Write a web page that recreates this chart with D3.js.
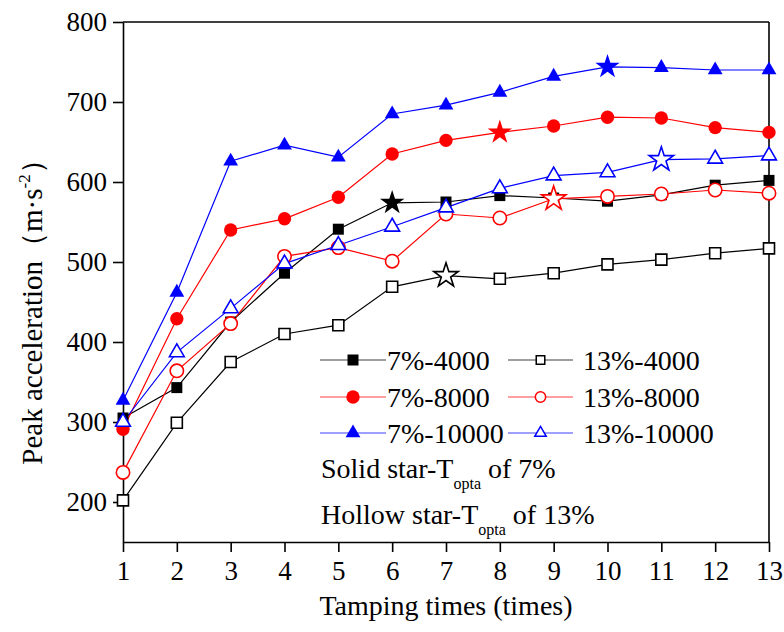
<!DOCTYPE html>
<html>
<head>
<meta charset="utf-8">
<script src="https://cdn.jsdelivr.net/npm/d3@7"></script>
<style>
  html, body { margin: 0; padding: 0; background: #fff; overflow: hidden; }
  svg { display: block; }
  text { font-family: "Liberation Serif", "Times New Roman", serif; fill: #000; }
</style>
</head>
<body>
<svg id="chart" width="784" height="632"></svg>
<script>
// 数据
var times = [1, 2, 3, 4, 5, 6, 7, 8, 9, 10, 11, 12, 13];
var s7_4000 = [305, 343, 425, 486, 541, 574, 575, 583, 580, 576, 584, 596, 602];
var s7_8000 = [291, 429, 540, 554, 581, 635, 652, 662, 670, 681, 680, 668, 662];
var s7_10000 = [327, 462, 626, 646, 631, 685, 696, 712, 732, 744, 743, 740, 740];
var s13_4000 = [202, 299, 375, 410, 421, 469, 483, 479, 486, 497, 503, 511, 517];
var s13_8000 = [237, 364, 423, 507, 518, 501, 560, 555, 579, 582, 585, 590, 586];
var s13_10000 = [300, 387, 442, 498, 521, 544, 568, 592, 608, 612, 628, 629, 633];
var yTicks = [200, 300, 400, 500, 600, 700, 800];

var series = [
  { name: "7%-4000", values: s7_4000, color: "#000", shape: "square", filled: true, star: 6 },
  { name: "7%-8000", values: s7_8000, color: "#ff0000", shape: "circle", filled: true, star: 8 },
  { name: "7%-10000", values: s7_10000, color: "#0000ff", shape: "triangle", filled: true, star: 10 },
  { name: "13%-4000", values: s13_4000, color: "#000", shape: "square", filled: false, star: 7 },
  { name: "13%-8000", values: s13_8000, color: "#ff0000", shape: "circle", filled: false, star: 9 },
  { name: "13%-10000", values: s13_10000, color: "#0000ff", shape: "triangle", filled: false, star: 11 }
];

var svg = d3.select("#chart");
var margin = { top: 22, right: 15, bottom: 90, left: 123 };
var width = +svg.attr("width");
var height = +svg.attr("height");
var innerWidth = width - margin.left - margin.right;
var innerHeight = height - margin.top - margin.bottom;

var x = d3.scaleLinear().domain([1, 13]).range([0, innerWidth]);
var y = d3.scaleLinear().domain([150, 800]).range([innerHeight, 0]);

var g = svg.append("g").attr("transform", "translate(" + margin.left + "," + margin.top + ")");

// 坐标轴
var xAxis = g.append("g")
  .attr("transform", "translate(0," + innerHeight + ")")
  .call(d3.axisBottom(x).tickValues(times).tickSize(10).tickPadding(9).tickSizeOuter(0));
var yAxis = g.append("g")
  .call(d3.axisLeft(y).tickValues(yTicks).tickSize(10).tickPadding(6).tickSizeOuter(0));
[xAxis, yAxis].forEach(function (a) {
  a.selectAll("path, line").attr("stroke", "#000").attr("stroke-width", 1.6);
  a.selectAll("text").style("font-family", "Liberation Serif").style("font-size", "27px").attr("fill", "#000");
});

// 上边框和右边框
g.append("line").attr("x1", 0).attr("x2", innerWidth).attr("y1", 0).attr("y2", 0)
  .attr("stroke", "#000").attr("stroke-width", 1.6);
g.append("line").attr("x1", innerWidth).attr("x2", innerWidth).attr("y1", 0).attr("y2", innerHeight)
  .attr("stroke", "#000").attr("stroke-width", 1.6);

var symbolType = { square: d3.symbolSquare, circle: d3.symbolCircle, triangle: d3.symbolTriangle };
var symbolSize = { square: 121, circle: 140, triangle: 95 };

function markerPath(shape, scale) {
  return d3.symbol().type(symbolType[shape]).size(symbolSize[shape] * (scale || 1))();
}
var starPath = d3.symbol().type(d3.symbolStar).size(185)();

// 折线
var line = d3.line()
  .x(function (d, i) { return x(times[i]); })
  .y(function (d) { return y(d); });

series.forEach(function (s) {
  g.append("path")
    .datum(s.values)
    .attr("d", line)
    .attr("fill", "none")
    .attr("stroke", s.color)
    .attr("stroke-width", 1.2);
});

series.forEach(function (s) {
  g.append("g")
    .selectAll("path")
    .data(s.values)
    .enter()
    .append("path")
    .attr("transform", function (d, i) { return "translate(" + x(times[i]) + "," + y(d) + ")"; })
    .attr("d", function (d, i) { return times[i] === s.star ? starPath : markerPath(s.shape); })
    .attr("fill", s.filled ? s.color : "#fff")
    .attr("stroke", s.color)
    .attr("stroke-width", s.filled ? 0 : 1.6);
});

// 图例
var legendRows = [360, 397, 433];
var legendCols = [{ x1: 320, x2: 386, text: 387 }, { x1: 508, x2: 573, text: 583 }];
series.forEach(function (s, i) {
  var col = legendCols[i < 3 ? 0 : 1];
  var ly = legendRows[i % 3];
  var lg = svg.append("g");
  lg.append("line")
    .attr("x1", col.x1).attr("x2", col.x2).attr("y1", ly).attr("y2", ly)
    .attr("stroke", s.color).attr("stroke-width", 1.2).attr("opacity", 0.75);
  lg.append("path")
    .attr("transform", "translate(" + (col.x1 + col.x2) / 2 + "," + ly + ")")
    .attr("d", markerPath(s.shape, s.filled ? 1 : 0.6))
    .attr("fill", s.filled ? s.color : "#fff")
    .attr("stroke", s.color)
    .attr("stroke-width", s.filled ? 0 : 1.5);
  lg.append("text")
    .attr("x", col.text).attr("y", ly + 10)
    .style("font-size", "28px")
    .text(s.name);
});

// 星号说明
var notes = [
  { pre: "Solid star-T", post: " of 7%", y: 478 },
  { pre: "Hollow star-T", post: " of 13%", y: 524 }
];
notes.forEach(function (n) {
  var t = svg.append("text").attr("x", 321).attr("y", n.y).style("font-size", "28px");
  t.append("tspan").text(n.pre);
  t.append("tspan").attr("dy", 11).style("font-size", "16px").text("opta");
  t.append("tspan").attr("dy", -11).text(n.post);
});

// 轴标题
svg.append("text")
  .attr("x", margin.left + innerWidth / 2)
  .attr("y", 615)
  .attr("text-anchor", "middle")
  .style("font-size", "28px")
  .text("Tamping times (times)");

var yl = svg.append("text")
  .attr("transform", "translate(42," + 305 + ") rotate(-90)")
  .attr("text-anchor", "middle")
  .style("font-size", "29px");
yl.append("tspan").text("Peak acceleration（m·s");
yl.append("tspan").attr("dy", -12).style("font-size", "17px").text("-2");
yl.append("tspan").attr("dy", 12).text("）");
</script>
</body>
</html>
